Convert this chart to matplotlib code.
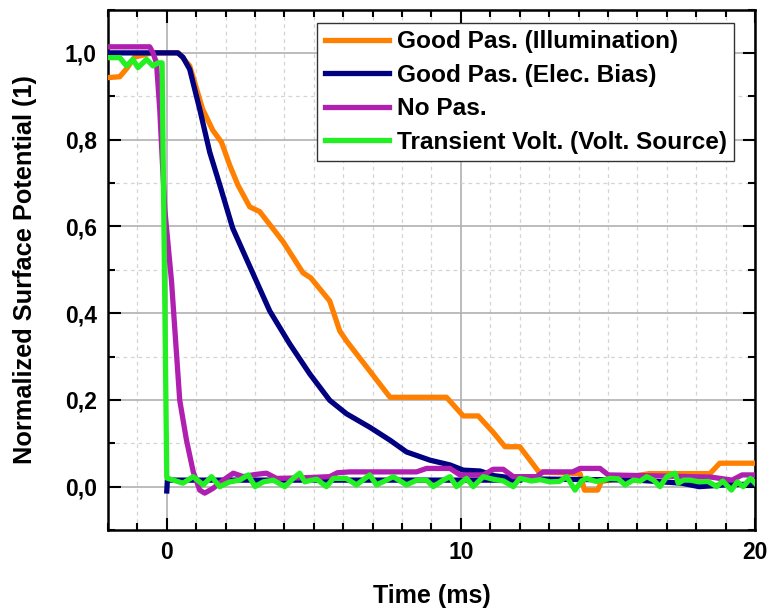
import numpy as np
import matplotlib
matplotlib.use("Agg")
import matplotlib.pyplot as plt
from matplotlib.ticker import MultipleLocator, FuncFormatter

plt.rcParams['font.family'] = ['Liberation Sans', 'DejaVu Sans']
plt.rcParams['font.weight'] = 'bold'

# Good Pas. (Illumination)
illum_t = [-2.0, -1.6, -1.35, -1.1, -0.5, 0.4, 0.78, 1.22, 1.56, 1.86, 2.14, 2.42, 2.82, 3.16, 3.95, 4.63,
           4.9, 5.54, 5.88, 6.11, 7.59, 9.51, 10.08, 10.59, 11.1, 11.5, 12.0, 12.35, 12.65, 14.05, 14.2,
           14.65, 14.78, 15.5, 16.4, 18.47, 18.8, 20.0]
illum_v = [0.943, 0.945, 0.965, 0.99, 1.0, 1.0, 0.97, 0.87, 0.822, 0.794, 0.741, 0.695, 0.645, 0.634, 0.565, 0.493,
           0.481, 0.428, 0.359, 0.336, 0.206, 0.206, 0.163, 0.163, 0.125, 0.092, 0.092, 0.061, 0.034, 0.03, -0.008,
           -0.008, 0.012, 0.02, 0.03, 0.03, 0.054, 0.054]

# Good Pas. (Elec. Bias)
bias_t = [-2.0, 0.37, 0.55, 0.78, 1.12, 1.46, 1.8, 2.24, 2.82, 3.5, 4.18, 4.86, 5.54, 6.11, 6.9, 7.59, 8.15,
          8.95, 9.63, 10.08, 10.65, 11.15, 12.0, 16.0, 17.5, 18.1, 19.0, 20.0]
bias_v = [1.0, 1.0, 0.99, 0.962, 0.87, 0.771, 0.696, 0.596, 0.508, 0.405, 0.329, 0.26, 0.199, 0.168, 0.137, 0.107, 0.08,
          0.061, 0.05, 0.038, 0.036, 0.025, 0.018, 0.015, 0.008, 0.0, 0.004, 0.006]
# baseline trace of the bias sweep
bias_base_t = [0.0, 0.02, 0.1, 12.0]
bias_base_v = [-0.01, 0.015, 0.015, 0.015]

# No Pas.
nopas_t = [-2.0, -0.58, -0.47, -0.35, -0.24, -0.07, 0.16, 0.44, 0.67, 0.9, 1.12, 1.29, 1.57, 1.92, 2.26, 2.6,
           3.0, 3.39, 3.73, 4.5, 5.54, 5.8, 6.22, 8.49, 8.83, 9.63, 9.97, 10.76, 11.1, 11.44, 11.78, 12.57,
           12.8, 13.8, 14.05, 14.73, 15.01, 16.5, 18.5, 19.22, 19.56, 20.0]
nopas_v = [1.014, 1.014, 1.0, 0.977, 0.87, 0.641, 0.474, 0.199, 0.107, 0.034, -0.008, -0.015, -0.004, 0.015, 0.031, 0.023,
           0.028, 0.031, 0.019, 0.02, 0.023, 0.032, 0.034, 0.034, 0.042, 0.042, 0.027, 0.027, 0.04, 0.04, 0.023, 0.023,
           0.034, 0.034, 0.042, 0.042, 0.027, 0.025, 0.022, 0.015, 0.027, 0.027]

# Transient Volt. (Volt. Source)
volt_t = [-2.0, -1.6, -1.37, -1.15, -0.98, -0.69, -0.47, -0.3, -0.16, 0.0, 0.04, 0.55, 0.9, 1.24, 1.52, 1.8, 2.14,
          2.48, 2.77, 3.0, 3.28, 3.62, 4.01, 4.3, 4.52, 4.69, 4.86, 5.1, 5.43, 5.66, 6.1, 6.45, 6.9, 7.13, 7.47,
          7.7, 8.15, 8.5, 8.83, 9.06, 9.4, 9.63, 9.85, 10.19, 10.42, 10.76, 11.1, 11.45, 11.78, 12.0, 12.4,
          12.7, 13.03, 13.35, 13.6, 13.88, 14.1, 14.27, 14.6, 14.85, 15.07, 15.35, 15.58, 15.86, 16.1, 16.32,
          16.55, 16.77, 17.0, 17.28, 17.39, 17.57, 17.8, 18.1, 18.4, 18.7, 18.9, 19.2, 19.4, 19.6, 19.84, 20.0]
volt_v = [0.989, 0.989, 0.97, 0.985, 0.966, 0.985, 0.97, 0.977, 0.977, 0.02, 0.019, 0.008, 0.023, 0.004, 0.023, 0.0, 0.011,
          0.015, 0.027, 0.0, 0.011, 0.015, 0.0, 0.019, 0.031, 0.011, 0.014, 0.017, 0.0, 0.019, 0.019, 0.004, 0.027, 0.004, 0.015,
          0.023, 0.004, 0.015, 0.015, 0.0, 0.015, 0.023, 0.0, 0.019, 0.0, 0.023, 0.017, 0.013, 0.0, 0.019, 0.013,
          0.016, 0.011, 0.012, 0.023, -0.008, 0.013, 0.019, 0.012, 0.015, 0.019, 0.018, 0.004, 0.015, 0.013, 0.023,
          0.015, 0.0, 0.023, 0.031, 0.008, 0.015, 0.015, 0.011, 0.012, 0.0, 0.013, -0.008, 0.011, 0.0, 0.019, 0.008]

c_illum = '#FF8000'
c_bias = '#000080'
c_nopas = '#B020B0'
c_volt = '#22F022'
lw = 3.8

fig = plt.figure(figsize=(7.69, 6.09), dpi=100)
ax = fig.add_axes([0.1404, 0.1297, 0.8414, 0.8547])

ax.plot(illum_t, illum_v, color=c_illum, lw=lw, label='Good Pas. (Illumination)', zorder=3)
ax.plot(bias_base_t, bias_base_v, color=c_bias, lw=lw, zorder=3)
ax.plot(bias_t, bias_v, color=c_bias, lw=lw, label='Good Pas. (Elec. Bias)', zorder=3)
ax.plot(nopas_t, nopas_v, color=c_nopas, lw=lw, label='No Pas.', zorder=4)
ax.plot(volt_t, volt_v, color=c_volt, lw=lw, label='Transient Volt. (Volt. Source)', zorder=5)

ax.set_xlim(-2, 20)
ax.set_ylim(-0.1, 1.1)
ax.xaxis.set_major_locator(MultipleLocator(10))
ax.xaxis.set_minor_locator(MultipleLocator(1))
ax.yaxis.set_major_locator(MultipleLocator(0.2))
ax.yaxis.set_minor_locator(MultipleLocator(0.1))
ax.yaxis.set_major_formatter(FuncFormatter(lambda v, p: f'{v:.1f}'.replace('.', ',').replace('-0,0', '0,0')))
ax.xaxis.set_major_formatter(FuncFormatter(lambda v, p: f'{v:.0f}'))

ax.grid(which='major', color='#B0B0B0', lw=1.2, ls='-', zorder=0)
ax.grid(which='minor', color='#D4D4D4', lw=0.9, ls=(0, (3, 3)), zorder=0)
ax.set_axisbelow(True)

ax.tick_params(which='both', direction='in', top=True, right=True, width=1.5, labelsize=16.5, pad=8)
ax.tick_params(which='major', length=9)
ax.tick_params(which='minor', length=5)
for s in ax.spines.values():
    s.set_linewidth(1.8)

ax.set_xlabel('Time (ms)', fontsize=18, fontweight='bold', labelpad=14)
ax.set_ylabel('Normalized Surface Potential (1)', fontsize=18.3, fontweight='bold', labelpad=20)

leg = ax.legend(loc='upper right', bbox_to_anchor=(0.9675, 0.974), borderaxespad=0, fontsize=17.6,
                handlelength=2.65, handletextpad=0.3, labelspacing=0.43, borderpad=0.3, fancybox=False,
                framealpha=1, edgecolor='#333333')
leg.get_frame().set_linewidth(1.0)
for t in leg.get_texts():
    t.set_fontweight('bold')

fig.savefig('out.png', dpi=100)
